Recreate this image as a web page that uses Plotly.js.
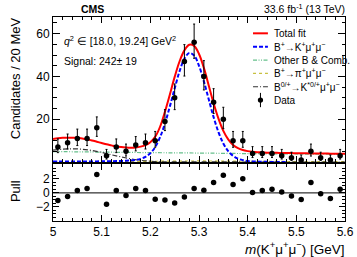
<!DOCTYPE html>
<html>
<head>
<meta charset="utf-8">
<script src="https://cdn.plot.ly/plotly-3.0.1.min.js"></script>
<style>html,body{margin:0;padding:0;background:#fff;}#chart{width:357px;height:257px;}</style>
</head>
<body>
<div id="chart"></div>
<script>
// ---- data ----
const binCenters = [5.01,5.03,5.05,5.07,5.09,5.11,5.13,5.15,5.17,5.19,5.21,5.23,5.25,5.27,5.29,5.31,5.33,5.35,5.37,5.39,5.41,5.43,5.45,5.47,5.49,5.51,5.53,5.55,5.57,5.59];
const counts = [7,9,11,11,16,3,7,5,8,9,10,19,30,47,56,40,28,20,10,10,4,4,4,3,2,1,5,2,1,3];
const errPlus = [3.8,4.1,4.4,4.4,5.1,2.9,3.8,3.4,3.9,4.1,4.3,5.5,6.5,7.9,8.5,7.4,6.3,5.6,4.3,4.3,3.2,3.2,3.2,2.9,2.6,2.3,3.4,2.6,2.3,2.9];
const errMinus = [2.6,2.9,3.3,3.3,4.0,1.6,2.6,2.2,2.8,2.9,3.1,4.3,5.5,6.8,7.5,6.3,5.3,4.4,3.1,3.1,1.9,1.9,1.9,1.6,1.3,0.8,2.2,1.3,0.8,1.6];
const pulls = [-1.1,-0.52,0.33,0.62,2.62,-1.62,0.33,-0.38,0.62,0.33,-0.9,-1.0,-1.43,-0.57,0.62,0.38,1.48,2.52,1.19,2.0,0.05,0.33,0.52,0.14,-0.43,-0.95,1.48,-0.14,-0.81,0.52];

const fitX = [5.00,5.01,5.02,5.03,5.04,5.05,5.06,5.07,5.08,5.09,5.10,5.11,5.12,5.13,5.14,5.15,5.16,5.17,5.18,5.19,5.20,5.21,5.22,5.23,5.24,5.25,5.26,5.27,5.28,5.29,5.30,5.31,5.32,5.33,5.34,5.35,5.36,5.37,5.38,5.39,5.40,5.41,5.42,5.43,5.44,5.45,5.46,5.47,5.48,5.49,5.50,5.51,5.52,5.53,5.54,5.55,5.56,5.57,5.58,5.59,5.60];
const totalFit = [10.8,11.1,11.3,11.4,11.4,11.3,11.0,10.6,10.1,9.5,8.9,8.3,7.8,7.3,7.0,6.8,6.7,6.8,7.2,7.9,9.3,11.8,16.5,23.5,31.5,39.8,47.0,52.2,54.8,54.3,50.5,44.0,35.8,27.5,20.3,14.6,10.6,8.0,6.5,5.6,5.1,4.8,4.6,4.5,4.4,4.35,4.3,4.25,4.2,4.17,4.13,4.1,4.07,4.04,4.01,3.98,3.95,3.93,3.91,3.89,3.87];
const signalFit = [0.3,0.3,0.3,0.3,0.3,0.3,0.3,0.3,0.3,0.3,0.35,0.35,0.4,0.45,0.5,0.6,0.75,1.0,1.5,2.4,4.1,7.0,11.6,18.0,25.9,34.4,42.4,48.3,51.0,49.8,45.0,37.7,29.3,21.0,14.0,8.7,5.1,2.9,1.6,0.9,0.5,0.3,0.2,0.15,0.1,0.05,0.05,0.05,0.05];
const combX = [5.0,5.1,5.2,5.3,5.4,5.5,5.6];
const combFit = [4.9,4.65,4.4,4.2,3.95,3.75,3.6];
const piX = [5.0,5.1,5.2,5.25,5.3,5.35,5.4,5.5,5.6];
const piFit = [0.2,0.25,0.35,0.45,0.5,0.45,0.35,0.25,0.2];
const kstX = [5.00,5.02,5.04,5.06,5.08,5.10,5.12,5.14,5.16,5.18,5.20,5.22,5.25,5.30,5.40,5.50,5.60];
const kstFit = [5.6,6.0,6.2,6.0,5.4,4.5,3.4,2.4,1.5,0.8,0.4,0.15,0.08,0.05,0.03,0.02,0.01];

const xTickVals = [5,5.1,5.2,5.3,5.4,5.5,5.6];
const legendLabels = ['Total fit','B<sup>+</sup>\u2192K<sup>+</sup>\u03bc<sup>+</sup>\u03bc<sup>\u2212</sup>','Other B & Comb.','B<sup>+</sup>\u2192\u03c0<sup>+</sup>\u03bc<sup>+</sup>\u03bc<sup>\u2212</sup>','B<sup>0/+</sup>\u2192K<sup>*0/+</sup>\u03bc<sup>+</sup>\u03bc<sup>\u2212</sup>','Data'];

// ---- styles ----
const FONT = 'Liberation Sans, Arial, Helvetica, sans-serif';
const cRed = '#ff0000', cBlue = '#0000ff', cGreen = '#66c08c', cYel = '#c8c040', cGray = '#333333';

const traces = [
  {x: combX, y: combFit, mode:'lines', line:{color:cGreen, width:1.2, dash:'4px,1.5px,1px,1.5px,1px,1.5px', shape:'spline'}, xaxis:'x', yaxis:'y'},
  {x: piX, y: piFit, mode:'lines', line:{color:cYel, width:1.2, dash:'dot', shape:'spline'}, xaxis:'x', yaxis:'y'},
  {x: kstX, y: kstFit, mode:'lines', line:{color:cGray, width:1.2, dash:'5px,2px,1px,2px', shape:'spline'}, xaxis:'x', yaxis:'y'},
  {x: fitX.slice(0, signalFit.length), y: signalFit, mode:'lines', line:{color:cBlue, width:2, dash:'4px,2px', shape:'spline'}, xaxis:'x', yaxis:'y'},
  {x: fitX, y: totalFit, mode:'lines', line:{color:cRed, width:2, shape:'spline'}, xaxis:'x', yaxis:'y'},
  {x: binCenters, y: counts, mode:'markers', marker:{color:'black', size:5.5},
   error_y:{type:'data', symmetric:false, array:errPlus, arrayminus:errMinus, color:'black', thickness:1, width:1}, xaxis:'x', yaxis:'y'},
  {x: binCenters, y: pulls, mode:'markers', marker:{color:'black', size:5.5}, xaxis:'x2', yaxis:'y2'}
];

// legend drawn as paper-positioned decorations
const legX0 = 0.685, legX1 = 0.736, legTx = 0.750;
const legY = [0.920,0.854,0.789,0.724,0.658,0.593];
const legStyles = [
  {color:cRed, width:2, dash:'solid'},
  {color:cBlue, width:2, dash:'4px,2px'},
  {color:cGreen, width:1.2, dash:'4px,1.5px,1px,1.5px,1px,1.5px'},
  {color:cYel, width:1.2, dash:'dot'},
  {color:cGray, width:1.2, dash:'5px,2px,1px,2px'}
];
const shapes = [
  {type:'line', xref:'paper', yref:'y2', x0:0, x1:1, y0:0, y1:0, line:{color:'black', width:1}}
];
const annotations = [];
legStyles.forEach((s,i)=>{
  shapes.push({type:'line', xref:'paper', yref:'paper', x0:legX0, x1:legX1, y0:legY[i], y1:legY[i], line:s});
});
// data legend marker
const mx = (legX0+legX1)/2;
shapes.push({type:'line', xref:'paper', yref:'paper', x0:mx, x1:mx, y0:legY[5]-0.035, y1:legY[5]+0.035, line:{color:'black', width:1}});
shapes.push({type:'circle', xref:'paper', yref:'paper', x0:mx-0.009, x1:mx+0.009, y0:legY[5]-0.013, y1:legY[5]+0.013, fillcolor:'black', line:{color:'black', width:0}});
legendLabels.forEach((t,i)=>{
  annotations.push({xref:'paper', yref:'paper', x:legTx, y:legY[i], text:t, showarrow:false, xanchor:'left', yanchor:'middle', font:{family:FONT, size:10, color:'black'}});
});
annotations.push(
  {xref:'paper', yref:'paper', x:0.134, y:1.0, text:'<b>CMS</b>', showarrow:false, xanchor:'center', yanchor:'bottom', font:{family:FONT, size:10.5, color:'black'}},
  {xref:'paper', yref:'paper', x:1.0, y:1.0, text:'33.6 fb<sup>-1</sup> (13 TeV)', showarrow:false, xanchor:'right', yanchor:'bottom', xshift:2, font:{family:FONT, size:10.5, color:'black'}},
  {xref:'paper', yref:'paper', x:0.03, y:0.887, text:'<i>q</i><sup>2</sup> \u2208 [18.0, 19.24] GeV<sup>2</sup>', showarrow:false, xanchor:'left', yanchor:'middle', font:{family:FONT, size:10.5, color:'black'}},
  {xref:'paper', yref:'paper', x:0.03, y:0.784, text:'Signal: 242\u00b1 19', showarrow:false, xanchor:'left', yanchor:'middle', font:{family:FONT, size:10.5, color:'black'}},
  {xref:'paper', yref:'paper', x:-0.130, y:0.70, text:'Candidates / 20 MeV', textangle:-90, showarrow:false, xanchor:'center', yanchor:'middle', font:{family:FONT, size:13, color:'black'}},
  {xref:'paper', yref:'paper', x:-0.130, y:0.147, text:'Pull', textangle:-90, showarrow:false, xanchor:'center', yanchor:'middle', font:{family:FONT, size:13, color:'black'}},
  {xref:'paper', yref:'paper', x:1.0, y:-0.132, text:'<i>m</i>(K<sup>+</sup>\u03bc<sup>+</sup>\u03bc<sup>\u2212</sup>) [GeV]', showarrow:false, xanchor:'right', yanchor:'middle', xshift:2, font:{family:FONT, size:13.5, color:'black'}}
);

const axBase = {showline:true, linecolor:'black', linewidth:1, mirror:'allticks', ticks:'inside', tickcolor:'black', zeroline:false, showgrid:false, tickfont:{family:FONT, size:12, color:'black'}};
const layout = {
  width:357, height:257,
  margin:{l:53, r:12, t:17, b:36},
  paper_bgcolor:'white', plot_bgcolor:'white',
  showlegend:false,
  xaxis: Object.assign({}, axBase, {anchor:'y', range:[5,5.6], tickvals:xTickVals, showticklabels:false, ticklen:6, minor:{ticks:'inside', ticklen:3, dtick:0.02, tickcolor:'black'}}),
  xaxis2: Object.assign({}, axBase, {anchor:'y2', matches:'x', range:[5,5.6], tickvals:xTickVals, ticktext:['5','5.1','5.2','5.3','5.4','5.5','5.6'], ticklen:6, minor:{ticks:'inside', ticklen:3, dtick:0.02, tickcolor:'black'}}),
  yaxis: Object.assign({}, axBase, {domain:[0.289,1], range:[0,67.8], tickvals:[20,40,60], ticklen:7, minor:{ticks:'inside', ticklen:3.5, dtick:5, tickcolor:'black'}}),
  yaxis2: Object.assign({}, axBase, {domain:[0,0.279], range:[-4,4.1], tickvals:[-2,0,2], ticktext:['\u22122','0','2'], ticklen:6, minor:{ticks:'inside', ticklen:3, dtick:0.5, tickcolor:'black'}}),
  shapes: shapes,
  annotations: annotations
};
Plotly.newPlot('chart', traces, layout, {staticPlot:true, displayModeBar:false});
</script>
</body>
</html>
